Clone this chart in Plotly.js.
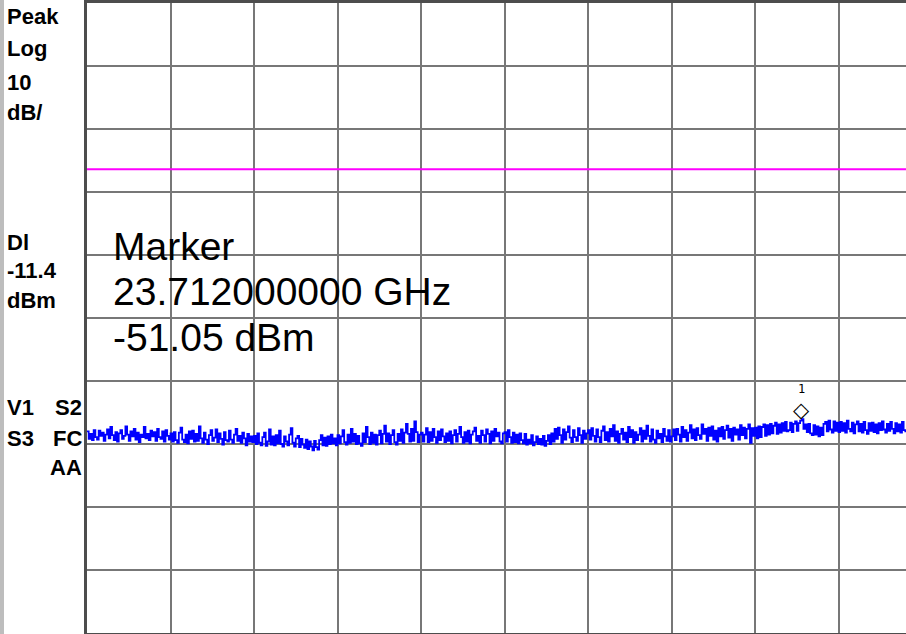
<!DOCTYPE html>
<html>
<head>
<meta charset="utf-8">
<script src="https://cdn.plot.ly/plotly-3.0.1.min.js"></script>
<style>
html,body{margin:0;padding:0;background:#fff;overflow:hidden;width:906px;height:634px;}
#chart{width:925px;height:634px;}
</style>
</head>
<body>
<div id="chart"></div>
<script>
// Sweep settings (GHz) and levels (dBm)
const startFreq = 22.0;
const stopFreq = 24.0;
const refLevel = 15;
const dbPerDiv = 10;
const displayLine = -11.4;
const markerFreq = 23.712;
const markerLevel = -51.05;

// Trace amplitudes (dBm), 501 sweep points from startFreq to stopFreq
const traceLevels = [
-53.0,-54.2,-53.4,-54.4,-52.8,-53.9,-54.3,-52.9,-53.7,-53.2,
-54.5,-53.5,-52.7,-54.1,-52.3,-53.6,-54.4,-53.1,-54.6,-53.3,
-52.8,-54.2,-53.7,-52.2,-53.5,-54.5,-53.0,-53.8,-52.6,-54.3,
-53.2,-54.7,-53.5,-53.9,-52.3,-54.1,-53.4,-54.4,-52.9,-53.8,
-53.1,-54.5,-52.6,-53.9,-54.2,-53.0,-54.6,-52.8,-53.7,-54.3,
-53.3,-54.6,-53.1,-54.4,-54.8,-53.2,-52.4,-54.3,-54.7,-53.5,
-54.9,-53.0,-54.2,-52.9,-54.6,-53.4,-54.5,-52.2,-54.1,-54.8,
-53.2,-54.3,-55.0,-53.6,-52.8,-54.5,-54.0,-52.7,-54.7,-53.3,
-54.2,-55.1,-53.1,-54.4,-54.6,-52.9,-54.3,-54.8,-53.5,-52.6,
-54.5,-53.7,-54.8,-53.2,-54.1,-55.2,-53.4,-54.6,-53.8,-54.7,
-53.7,-55.0,-53.3,-54.8,-55.2,-53.9,-53.2,-55.3,-54.6,-52.7,
-55.1,-53.8,-55.2,-53.6,-54.9,-52.9,-55.0,-55.4,-53.8,-54.6,
-55.2,-53.5,-52.5,-54.8,-55.4,-54.1,-53.7,-55.5,-54.2,-55.1,
-55.6,-54.3,-55.8,-54.6,-55.4,-56.0,-54.5,-55.5,-55.9,-54.4,
-53.6,-55.2,-54.0,-55.3,-53.8,-55.0,-53.5,-54.9,-54.1,-55.2,
-53.6,-54.9,-53.8,-52.8,-54.7,-55.1,-53.5,-54.8,-52.6,-54.6,
-53.4,-55.0,-53.7,-54.9,-55.3,-53.3,-54.7,-52.3,-53.9,-55.0,
-53.2,-54.8,-53.5,-55.1,-53.6,-52.9,-54.9,-53.4,-52.1,-54.6,
-53.3,-55.0,-53.6,-52.8,-54.7,-55.1,-53.4,-54.5,-52.7,-54.8,
-53.2,-51.8,-53.4,-54.6,-52.6,-54.5,-51.4,-53.1,-54.7,-53.5,
-53.2,-54.6,-53.5,-52.5,-54.7,-53.1,-54.5,-52.6,-53.9,-54.8,
-53.0,-54.4,-52.7,-53.8,-54.7,-53.3,-54.5,-53.0,-54.9,-53.6,
-52.8,-54.6,-53.4,-52.3,-53.9,-54.8,-53.1,-54.6,-52.9,-54.9,
-53.5,-53.0,-52.4,-54.5,-53.7,-54.8,-52.9,-53.6,-54.6,-52.7,
-53.4,-54.9,-53.0,-54.5,-52.6,-53.8,-53.2,-54.6,-54.9,-53.3,
-53.1,-54.6,-52.8,-53.9,-54.8,-53.2,-54.7,-53.5,-54.9,-53.3,
-54.4,-54.9,-53.4,-55.1,-54.3,-54.9,-53.6,-55.2,-54.7,-53.8,
-55.0,-54.2,-55.1,-53.7,-55.3,-54.5,-53.6,-55.0,-53.3,-54.6,
-52.6,-54.2,-52.4,-53.6,-54.8,-52.7,-54.3,-53.1,-52.2,-54.0,
-54.7,-52.8,-53.9,-54.5,-52.5,-53.6,-54.8,-52.9,-54.2,-53.3,
-52.8,-54.3,-52.5,-53.7,-54.6,-52.7,-53.9,-54.7,-52.9,-52.2,
-54.4,-53.1,-54.6,-52.6,-53.8,-52.0,-54.5,-53.0,-54.8,-53.4,
-52.6,-54.3,-53.2,-54.7,-52.3,-53.9,-52.8,-54.8,-53.1,-54.4,
-53.5,-52.5,-54.6,-52.9,-54.2,-52.1,-53.7,-54.6,-52.7,-54.3,
-54.8,-52.9,-54.1,-53.4,-54.7,-52.6,-53.8,-54.5,-52.8,-54.6,
-53.8,-52.7,-54.4,-52.6,-53.5,-54.6,-52.3,-53.9,-52.8,-54.5,
-53.2,-52.0,-54.1,-52.7,-54.4,-52.5,-53.6,-54.2,-51.9,-53.4,
-52.6,-54.5,-52.4,-53.7,-52.2,-54.3,-52.9,-54.6,-52.5,-53.8,
-52.3,-54.2,-52.8,-52.1,-54.0,-52.6,-54.5,-52.4,-53.5,-52.7,
-54.3,-52.0,-53.6,-52.4,-54.1,-52.6,-51.9,-54.8,-52.5,-53.7,
-52.4,-54.1,-52.2,-53.9,-52.3,-51.9,-53.7,-52.0,-53.5,-51.8,
-53.3,-52.1,-51.6,-53.4,-51.9,-53.2,-51.7,-52.9,-51.5,-53.0,
-52.8,-51.6,-53.1,-51.8,-51.4,-52.9,-51.7,-51.3,-51.05,-52.6,
-51.9,-53.1,-51.8,-53.3,-53.6,-52.0,-53.5,-52.2,-53.8,-52.4,
-53.6,-51.8,-51.5,-53.0,-51.3,-52.7,-53.2,-51.4,-52.9,-51.6,
-53.1,-51.5,-52.9,-51.7,-53.2,-51.3,-52.6,-53.0,-51.6,-53.3,
-51.9,-51.4,-53.0,-51.8,-53.2,-51.5,-52.8,-53.4,-51.7,-52.9,
-51.6,-53.1,-51.9,-53.3,-51.7,-52.8,-51.4,-52.7,-53.2,-51.8,
-52.9,-51.5,-52.6,-53.3,-51.7,-53.0,-51.9,-53.2,-51.5,-52.8,
-53.0,-51.7,-53.1,-52.0,-51.5,-53.0,-51.8,-52.6,-53.2,-51.7,
-52.6
];

// Side panel labels
const leftLabelsTop = ["Peak", "Log", "10", "dB/"];
const leftLabelsDl = ["Dl", "-11.4", "dBm"];
const markerLines = ["Marker", "23.712000000 GHz", "-51.05 dBm"];
const markerNumber = "1";

const step = (stopFreq - startFreq) / (traceLevels.length - 1);
const freqs = traceLevels.map((_, i) => startFreq + i * step);

// pixel helpers for the side panel (plot area: x 87..922, y 3..633)
const L = 87, PW = 835, T = 3, PH = 630;
const px = v => (v - L) / PW;
const py = v => (T + PH - v) / PH;

const panelFont = {family: "Liberation Sans, Arial, sans-serif", size: 22, color: "#000"};
const bigFont = {family: "Liberation Sans, Arial, sans-serif", size: 39, color: "#000"};

const annotations = [];
const addPanel = (text, x, y, anchor) => annotations.push({
  xref: "paper", yref: "paper", x: px(x), y: py(y), text: "<b>" + text + "</b>",
  showarrow: false, xanchor: anchor || "left", yanchor: "middle", font: panelFont
});
[16, 49, 82, 112].forEach((y, i) => addPanel(leftLabelsTop[i], 5, y));
[242, 270, 300].forEach((y, i) => addPanel(leftLabelsDl[i], 5, y));
addPanel("V1", 5, 408);
addPanel("S2", 84, 408, "right");
addPanel("S3", 5, 438);
addPanel("FC", 84, 438, "right");
addPanel("AA", 84, 467, "right");

[247, 291, 337].forEach((y, i) => annotations.push({
  xref: "paper", yref: "paper", x: px(111), y: py(y), text: markerLines[i],
  showarrow: false, xanchor: "left", yanchor: "middle", font: bigFont
}));

// marker diamond and its number
annotations.push({
  x: markerFreq, y: markerLevel, xref: "x", yref: "y", text: "◇",
  showarrow: false, xanchor: "center", yanchor: "bottom", yshift: -5,
  font: {family: "DejaVu Sans", size: 21, color: "#000"}
});
annotations.push({
  x: markerFreq, y: markerLevel, xref: "x", yref: "y", text: markerNumber,
  showarrow: false, xanchor: "center", yanchor: "middle", yshift: 30,
  font: {family: "DejaVu Sans Mono", size: 12, color: "#000"}
});

const shapes = [
  {type: "rect", xref: "paper", yref: "paper", x0: px(0), x1: px(4), y0: py(634), y1: py(0),
   fillcolor: "#bdbdbd", line: {width: 0}, layer: "above"},
  {type: "line", xref: "paper", yref: "y", x0: 0, x1: 1, y0: displayLine, y1: displayLine,
   line: {color: "#ff00ff", width: 2}, layer: "above"}
];

const data = [{
  x: freqs, y: traceLevels, type: "scatter", mode: "lines",
  line: {color: "#0000ff", width: 1.8, shape: "hv"}, hoverinfo: "skip"
}];

const layout = {
  width: 925, height: 634,
  margin: {l: L, r: 925 - L - PW, t: T, b: 634 - T - PH},
  paper_bgcolor: "#fff", plot_bgcolor: "#fff",
  showlegend: false,
  xaxis: {range: [startFreq, stopFreq], dtick: 0.2, tick0: startFreq, showticklabels: false,
          ticks: "", showgrid: true, gridcolor: "#777", gridwidth: 2, zeroline: false,
          showline: true, mirror: true, linecolor: "#4d4d4d", linewidth: 3},
  yaxis: {range: [refLevel - 10 * dbPerDiv, refLevel], dtick: dbPerDiv, tick0: refLevel,
          showticklabels: false, ticks: "", showgrid: true, gridcolor: "#777", gridwidth: 2,
          zeroline: false, showline: true, mirror: true, linecolor: "#4d4d4d", linewidth: 3},
  annotations: annotations,
  shapes: shapes
};

Plotly.newPlot("chart", data, layout, {displayModeBar: false, staticPlot: true});
</script>
</body>
</html>
